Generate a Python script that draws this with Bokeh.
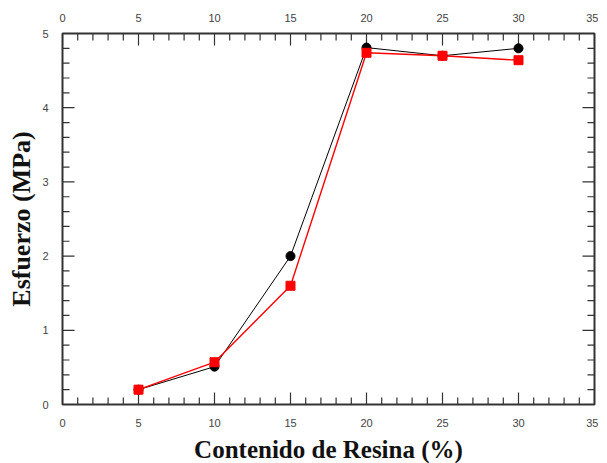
from bokeh.plotting import figure
from bokeh.models import LinearAxis, Range1d, SingleIntervalTicker
from bokeh.embed import file_html
from bokeh.resources import INLINE

resina = [5, 10, 15, 20, 25, 30]
esfuerzo_negro = [0.2, 0.51, 2.0, 4.81, 4.7, 4.8]
esfuerzo_rojo = [0.2, 0.57, 1.6, 4.74, 4.7, 4.64]

X_MAX, Y_MAX = 35, 5
FW, FH = 532, 371

p = figure(frame_width=FW, frame_height=FH, output_backend="svg", toolbar_location=None,
           x_range=Range1d(0, X_MAX), y_range=Range1d(0, Y_MAX),
           min_border_left=62, min_border_right=4, min_border_top=33, min_border_bottom=50,
           x_axis_label="Contenido de Resina (%)", y_axis_label="Esfuerzo (MPa)")
p.outline_line_color = "#333333"
p.outline_line_width = 2
p.grid.visible = False
p.background_fill_color = "white"

xb = p.xaxis[0]
yl = p.yaxis[0]
xt = LinearAxis()
p.add_layout(xt, "above")

for ax in (xb, xt, yl):
    ax.axis_line_color = None
    ax.major_tick_line_color = None
    ax.minor_tick_line_color = None
    ax.major_tick_in = 0
    ax.major_tick_out = 0
    ax.minor_tick_in = 0
    ax.minor_tick_out = 0
    ax.major_label_text_font = "Liberation Sans"
    ax.major_label_text_font_size = "11px"
    ax.major_label_text_color = "#444444"
    ax.axis_label_text_font = "Liberation Serif"
    ax.axis_label_text_font_style = "bold"
    ax.axis_label_text_font_size = "25px"
    ax.axis_label_text_color = "#111111"
yl.axis_label_text_font_size = "26px"
for ax in (xb, xt):
    ax.ticker = SingleIntervalTicker(interval=5)
yl.ticker = SingleIntervalTicker(interval=1)
xb.major_label_standoff = 14
xt.major_label_standoff = 12
yl.major_label_standoff = 14
xb.axis_label_standoff = 6
yl.axis_label_standoff = 3

# inward ticks drawn as short segments (length in px converted to data units)
x_major = list(range(0, X_MAX + 1, 5))
x_minor = [i for i in range(1, X_MAX) if i % 5]
y_major = list(range(0, Y_MAX + 1))
y_minor = [i / 5 for i in range(1, Y_MAX * 5) if i % 5]
tc = "#333333"
dy = Y_MAX / FH
dx = X_MAX / FW
for xs, L in ((x_major, 12), (x_minor, 7)):
    n = len(xs)
    p.segment(x0=xs, y0=[0] * n, x1=xs, y1=[L * dy] * n, line_color=tc, line_width=1.2)
    p.segment(x0=xs, y0=[Y_MAX] * n, x1=xs, y1=[Y_MAX - L * dy] * n, line_color=tc, line_width=1.2)
for ys, L in ((y_major, 12), (y_minor, 7)):
    n = len(ys)
    p.segment(x0=[0] * n, y0=ys, x1=[L * dx] * n, y1=ys, line_color=tc, line_width=1.2)
    p.segment(x0=[X_MAX] * n, y0=ys, x1=[X_MAX - L * dx] * n, y1=ys, line_color=tc, line_width=1.2)

p.line(resina, esfuerzo_negro, line_color="black", line_width=1)
p.line(resina, esfuerzo_rojo, line_color="red", line_width=1.4)
p.scatter(resina, esfuerzo_negro, marker="circle", size=9, fill_color="black", line_color="black")
p.scatter(resina, esfuerzo_rojo, marker="square", size=9, fill_color="red", line_color="red")

open("out.html", "w").write(file_html(p, INLINE))
